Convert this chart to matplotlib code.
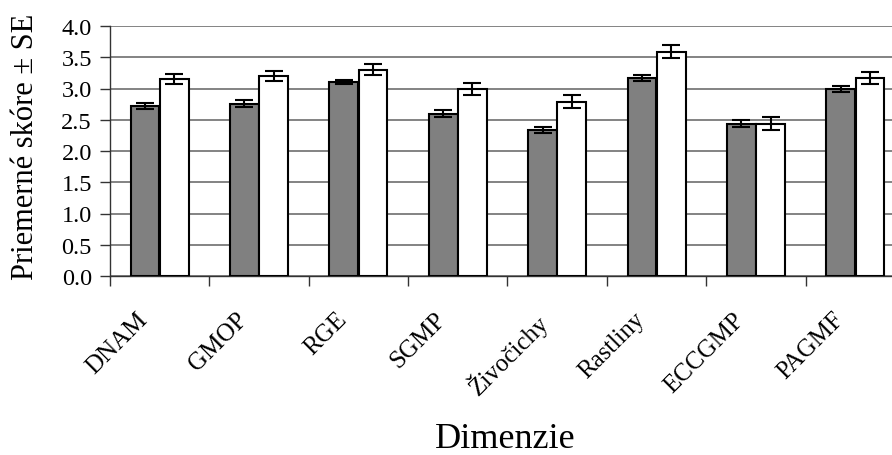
"""Grouped bar chart of mean scores per dimension with SE error bars."""

import numpy as np
import matplotlib
matplotlib.use("Agg")
import matplotlib.pyplot as plt
from matplotlib.transforms import ScaledTranslation

categories = ["DNAM", "GMOP", "RGE", "SGMP", "Živočichy", "Rastliny", "ECCGMP", "PAGMF"]
gray_mean = [2.72, 2.76, 3.11, 2.60, 2.34, 3.17, 2.44, 2.99]
gray_se = [0.05, 0.05, 0.03, 0.05, 0.05, 0.05, 0.05, 0.05]
white_mean = [3.15, 3.20, 3.30, 2.99, 2.79, 3.59, 2.44, 3.17]
white_se = [0.08, 0.08, 0.085, 0.10, 0.10, 0.10, 0.10, 0.10]
y_ticks = [0.0, 0.5, 1.0, 1.5, 2.0, 2.5, 3.0, 3.5, 4.0]

plt.rcParams["font.family"] = ["Liberation Serif", "DejaVu Serif"]

fig = plt.figure(figsize=(8.92, 4.56), dpi=100)
# axis runs a bit past the right edge of the picture, as in the source
ax = fig.add_axes([110 / 892, 1 - 277 / 456, 795 / 892, 250 / 456])

x = np.arange(len(categories)) + 0.5
width = 0.29
off = 0.147
err_kw = dict(ecolor="black", elinewidth=1.5, capsize=6.5, capthick=1.5)

ax.bar(x - off, gray_mean, width, yerr=gray_se, color="#808080",
       edgecolor="black", linewidth=1.5, error_kw=err_kw, zorder=3)
ax.bar(x + off, white_mean, width, yerr=white_se, color="white",
       edgecolor="black", linewidth=1.5, error_kw=err_kw, zorder=3)

ax.set_xlim(0, len(categories))
ax.set_ylim(0, 4.0)
ax.set_yticks(y_ticks)
ax.set_yticklabels([f"{t:.1f}" for t in y_ticks], fontsize=17.5)

# labels at group centres, tick marks at group boundaries
ax.set_xticks(x)
ax.set_xticklabels(categories, fontsize=18, rotation=45, ha="right",
                   va="top", rotation_mode="anchor")
ax.tick_params(axis="x", which="major", length=0, pad=23)
shift = ScaledTranslation(-23 / 100, 0, fig.dpi_scale_trans)
for lbl in ax.get_xticklabels():
    lbl.set_transform(lbl.get_transform() + shift)
ax.set_xticks(np.arange(len(categories) + 1), minor=True)
ax.tick_params(axis="x", which="minor", length=7, width=1, color="#333333")
ax.tick_params(axis="y", length=7, width=1, color="#333333", pad=6)

ax.yaxis.grid(True, color="#6e6e6e", linewidth=1.2, zorder=0)
ax.set_axisbelow(True)
for side in ["top", "right"]:
    ax.spines[side].set_visible(False)
ax.spines["left"].set_color("#333333")
ax.spines["bottom"].set_color("#333333")
ax.spines["left"].set_linewidth(1)
ax.spines["bottom"].set_linewidth(1)

ax.set_ylabel("Priemerné skóre ± SE", fontsize=22)
ax.yaxis.set_label_coords(-70 / 795, 0.52)
ax.set_xlabel("Dimenzie", fontsize=26)
ax.xaxis.set_label_coords((505 - 110) / 795, -146 / 250)

fig.savefig("out.png", dpi=100)
